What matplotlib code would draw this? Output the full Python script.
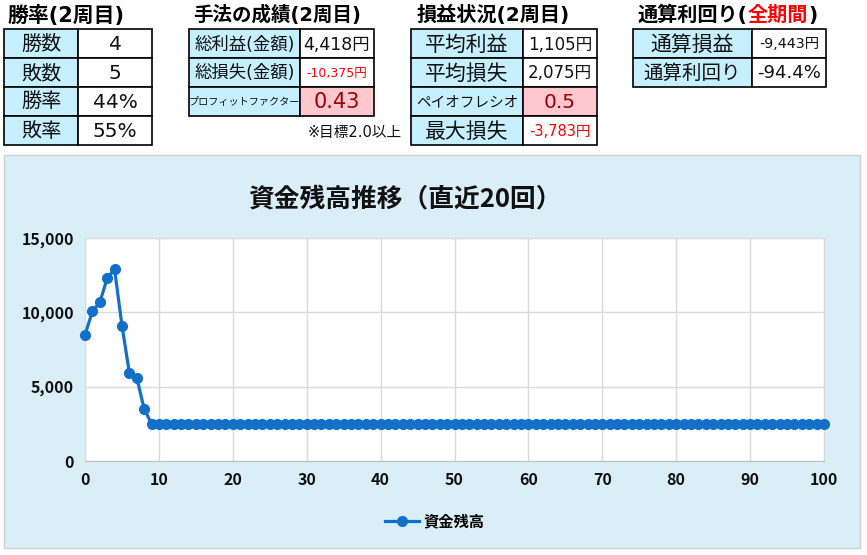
import numpy as np
import matplotlib
matplotlib.use('Agg')
import matplotlib.pyplot as plt
from matplotlib.patches import Rectangle
from matplotlib.lines import Line2D

# Latin glyphs from DejaVu (close to Meiryo's Verdana-like digits), kana/kanji from Noto CJK
plt.rcParams['font.family'] = ['DejaVu Sans', 'Noto Sans CJK JP']
CJK = ['Noto Sans CJK JP', 'DejaVu Sans']

# --- data ---
t1_title = '勝率(2周目)'
t1_labels = ['勝数', '敗数', '勝率', '敗率']
t1_values = ['4', '5', '44%', '55%']

t2_title = '手法の成績(2周目)'
t2_labels = ['総利益(金額)', '総損失(金額)', 'プロフィットファクター']
t2_values = ['4,418円', '-10,375円', '0.43']
t2_note = '※目標2.0以上'

t3_title = '損益状況(2周目)'
t3_labels = ['平均利益', '平均損失', 'ペイオフレシオ', '最大損失']
t3_values = ['1,105円', '2,075円', '0.5', '-3,783円']

t4_title_a = '通算利回り('
t4_title_b = '全期間'
t4_title_c = ')'
t4_labels = ['通算損益', '通算利回り']
t4_values = ['-9,443円', '-94.4%']

chart_title = '資金残高推移（直近20回）'
series_name = '資金残高'
trade_no = list(range(0, 101))
balance = [8480, 10060, 10670, 12280, 12900, 9110, 5950, 5610, 3520] + [2490] * 92
x_ticks = [0, 10, 20, 30, 40, 50, 60, 70, 80, 90, 100]
y_ticks = [0, 5000, 10000, 15000]

# --- colours ---
CELL_BLUE = '#C6EFFF'
BAD_FILL = '#FFC7CE'
BAD_TEXT = '#9C0006'
RED = '#FF0000'
PANEL = '#DAEEF7'
LINE = '#1270C8'
INK = '#111111'

W, H = 867, 555
fig = plt.figure(figsize=(W / 100, H / 100), dpi=100)
bg = fig.add_axes([0, 0, 1, 1])
bg.set_xlim(0, W)
bg.set_ylim(H, 0)
bg.axis('off')


def draw_table(x0, xs, x1, y0, rh, labels, values, label_sizes, value_sizes, value_colors, value_fills):
    for i, (lab, val) in enumerate(zip(labels, values)):
        y = y0 + i * rh
        bg.add_patch(Rectangle((x0, y), xs - x0, rh, facecolor=CELL_BLUE, edgecolor='black', lw=1.2))
        bg.add_patch(Rectangle((xs, y), x1 - xs, rh, facecolor=value_fills[i], edgecolor='black', lw=1.2))
        bg.text((x0 + xs) / 2, y + rh / 2 + 1, lab, ha='center', va='center', fontsize=label_sizes[i], color=INK)
        bg.text((xs + x1) / 2, y + rh / 2 + 1, val, ha='center', va='center', fontsize=value_sizes[i], color=value_colors[i])


rh = 29
# table 1
bg.text(8, 15, t1_title, ha='left', va='center', fontsize=15, fontweight='bold')
draw_table(4, 78, 152, 29, rh, t1_labels, t1_values,
           [14.5] * 4, [14.5] * 4, [INK] * 4, ['white'] * 4)

# table 2
bg.text(193, 15, t2_title, ha='left', va='center', fontsize=14, fontweight='bold')
draw_table(189, 300, 374, 29, rh, t2_labels, t2_values,
           [12.5, 12.5, 7.3], [12.5, 9, 15], [INK, RED, BAD_TEXT], ['white', 'white', BAD_FILL])
bg.text(402, 132, t2_note, ha='right', va='center', fontsize=10.5, color=INK)

# table 3
bg.text(417, 15, t3_title, ha='left', va='center', fontsize=14.5, fontweight='bold')
draw_table(411, 523, 597, 29, rh, t3_labels, t3_values,
           [15, 15, 10.5, 15], [12, 12, 14.5, 10.5], [INK, INK, BAD_TEXT, RED],
           ['white', 'white', BAD_FILL, 'white'])

# table 4 (title with red part)
ta = bg.text(638, 15, t4_title_a, ha='left', va='center', fontsize=14.5, fontweight='bold')
fig.canvas.draw()
inv = bg.transData.inverted()
xb = inv.transform((ta.get_window_extent().x1, 0))[0]
tb = bg.text(xb, 15, t4_title_b, ha='left', va='center', fontsize=14.5, fontweight='bold', color=RED)
fig.canvas.draw()
xc = inv.transform((tb.get_window_extent().x1, 0))[0]
bg.text(xc, 15, t4_title_c, ha='left', va='center', fontsize=14.5, fontweight='bold')
draw_table(633, 752, 826, 29, rh, t4_labels, t4_values,
           [15, 14], [10.3, 13], [INK, INK], ['white', 'white'])

# chart panel
bg.add_patch(Rectangle((4, 155), 856, 393, facecolor=PANEL, edgecolor='#D0D0D0', lw=1))
bg.text(405, 200, chart_title, ha='center', va='center', fontsize=18.5, fontweight='bold',
        color=INK, family=CJK)

# chart axes
L, R, T, B = 85, 824, 238, 461
ax = fig.add_axes([L / W, (H - B) / H, (R - L) / W, (B - T) / H])
ax.set_facecolor('white')
ax.plot(trade_no, balance, color=LINE, lw=2.3, marker='o', markersize=7, label=series_name,
        zorder=3, clip_on=False)
ax.set_xlim(0, 100)
ax.set_ylim(0, 15000)
ax.set_xticks(x_ticks)
ax.set_yticks(y_ticks)
ax.set_yticklabels([f'{v:,}' for v in y_ticks])
ax.grid(True, color='#D9D9D9', lw=1)
ax.set_axisbelow(True)
for s in ax.spines.values():
    s.set_color('#D9D9D9')
ax.spines['bottom'].set_color('#BFBFBF')
ax.tick_params(length=0, labelsize=11.5, pad=8)
for lbl in ax.get_xticklabels() + ax.get_yticklabels():
    lbl.set_fontweight('bold')
    lbl.set_family(CJK)
    lbl.set_color(INK)

handle = Line2D([], [], color=LINE, lw=2.3, marker='o', markersize=7)
fig.legend([handle], [series_name], loc='center', bbox_to_anchor=(435 / W, (H - 521) / H),
           frameon=False, prop={'weight': 'bold', 'size': 11, 'family': CJK},
           handlelength=2.2, handletextpad=0.3)

fig.savefig('out.png', dpi=100)
